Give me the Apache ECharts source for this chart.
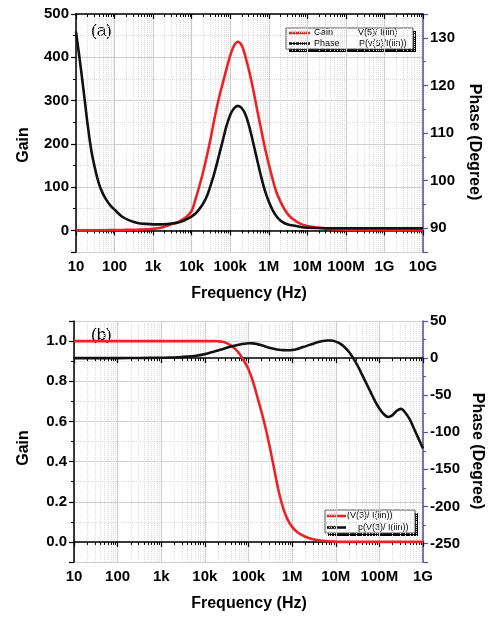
<!DOCTYPE html>
<html><head><meta charset="utf-8">
<script src="https://cdn.jsdelivr.net/npm/echarts@6/dist/echarts.min.js"></script>
<style>html,body{margin:0;padding:0;background:#fff}#c{width:490px;height:617px}</style>
</head><body><div id="c"></div>
<script>
// ---- Panel (a) data ----
const freqA = [10, 12.6, 15.8, 20, 25.1, 31.6, 39.8, 50.1, 63.1, 79.4, 100,
  158, 251, 398, 631, 1000, 1585, 2512,
  3162, 3981, 5012, 6310, 7943, 1e4, 1.26e4, 1.58e4, 2e4, 2.51e4, 3.16e4, 3.98e4, 5.01e4, 6.31e4, 7.94e4,
  1e5, 1.26e5, 1.58e5, 2e5, 2.51e5, 3.16e5, 3.98e5, 5.01e5, 6.31e5, 7.94e5,
  1e6, 1.26e6, 1.58e6, 2e6, 2.51e6, 3.16e6, 3.98e6,
  6.31e6, 1e7, 3.16e7, 1e8, 1e9, 1e10];
const gainA = [0, 0, 0, 0, 0, 0.1, 0.2, 0.3, 0.4, 0.5, 0.6,
  0.9, 1.2, 1.7, 2.5, 3.5, 6, 12,
  15, 18, 22, 27, 34, 45, 72, 102, 136, 174, 216, 262, 303, 338, 372,
  404, 427, 436, 427, 400, 365, 324, 278, 234, 191,
  153, 118, 88, 67, 50, 37, 28,
  16, 10, 4, 1.5, 0.5, 0];
const phaseA = [131.3, 125.2, 118.8, 111.8, 106.2, 102.3, 99.2, 97.2, 95.8, 94.7, 93.9,
  92.4, 91.6, 91.1, 90.9, 90.8, 90.8, 90.9,
  91.0, 91.1, 91.3, 91.6, 92.0, 92.5, 93.1, 94.0, 95.2, 96.8, 99.2, 101.9, 105.0, 108.2, 111.4,
  113.8, 115.2, 115.7, 115.2, 113.8, 111.2, 107.8, 104.3, 100.9, 97.9,
  95.6, 93.8, 92.5, 91.6, 91.1, 90.8, 90.6,
  90.3, 90.1, 90, 90, 90, 90];
// ---- Panel (b) data ----
const freqB = [10, 31.6, 100, 316, 1000, 1585, 2512, 3981, 6310,
  1e4, 1.26e4, 1.58e4, 2e4, 2.51e4, 3.16e4, 3.98e4, 5.01e4, 6.31e4, 7.94e4,
  1e5, 1.26e5, 1.58e5, 2e5, 2.51e5, 3.16e5, 3.98e5, 5.01e5, 6.31e5, 7.94e5,
  1e6, 1.26e6, 1.58e6, 2e6, 2.51e6, 3.16e6, 3.98e6, 5.01e6, 6.31e6, 7.94e6,
  1e7, 1.26e7, 1.58e7, 2e7, 2.51e7, 3.16e7, 3.98e7, 5.01e7, 6.31e7, 7.94e7,
  1e8, 1.26e8, 1.58e8, 2e8, 2.51e8, 3.16e8, 3.98e8, 5.01e8, 6.31e8, 7.94e8,
  1e9];
const gainB = [1, 1, 1, 1, 1, 1, 1, 1, 1,
  1, 1, 1, 0.999, 0.997, 0.99, 0.978, 0.96, 0.935, 0.9,
  0.86, 0.8, 0.725, 0.645, 0.56, 0.46, 0.35, 0.245, 0.165, 0.11,
  0.075, 0.052, 0.037, 0.026, 0.018, 0.012, 0.008, 0.005, 0.003, 0.002,
  0.001, 0, 0, 0, 0, 0, 0, 0, 0, 0,
  0, 0, 0, 0, 0, 0, 0, 0, 0, 0,
  0];
const phaseB = [0, 0, 0, 0.1, 0.4, 0.7, 1.2, 2.0, 3.2,
  5.3, 6.8, 8.5, 10.3, 12, 13.8, 15.5, 17, 18.3, 19.3,
  19.9, 19.8, 18.8, 17.2, 15.3, 13.6, 12.2, 11.2, 10.7, 10.6,
  11.0, 12.0, 13.8, 15.8, 17.8, 19.8, 21.6, 23.0, 23.8, 23.6,
  22.2, 19.5, 15, 8.5, 0, -10, -22, -34, -46, -58,
  -68, -75.5, -79.5, -77, -71, -68.5, -74, -83, -96, -109,
  -122];
// ---- tick labels ----
const xTickLabels = ['10', '100', '1k', '10k', '100k', '1M', '10M', '100M', '1G', '10G'];

const pairs = (xs, ys) => xs.map((x, i) => [x, ys[i]]);
const FONT = 'Liberation Sans, Arial, sans-serif';
const RED = '#ec2227', BLACK = '#111', PURPLE = '#5b4ea6', GRID = '#cfcfcf';

function xAxisBottom(gi, max) {
  return {
    type: 'log', logBase: 10, gridIndex: gi, position: 'bottom', min: 10, max: max,
    axisLine: { show: true, lineStyle: { color: '#000', width: 1.5 } },
    axisTick: { show: true, inside: false, length: 5, lineStyle: { color: '#000', width: 1.2 } },
    minorTick: { show: true, splitNumber: 9, length: 3, lineStyle: { color: '#000' } },
    axisLabel: { color: '#000', fontFamily: FONT, fontWeight: 'bold', fontSize: 15, margin: 7,
      formatter: v => xTickLabels[Math.round(Math.log10(v)) - 1] },
    splitLine: { show: true, lineStyle: { color: GRID, width: 1.2 } },
    minorSplitLine: { show: true, lineStyle: { color: '#dcdcdc', type: 'dotted', width: 1 } }
  };
}
function xAxisTop(gi, max) {
  return {
    type: 'log', logBase: 10, gridIndex: gi, position: 'top', min: 10, max: max,
    axisLine: { show: true, lineStyle: { color: '#000', width: 1.5 } },
    axisTick: { show: true, inside: true, length: 5, lineStyle: { color: '#000', width: 1.2 } },
    minorTick: { show: true, splitNumber: 9, length: 3, lineStyle: { color: '#000' } },
    axisLabel: { show: false }, splitLine: { show: false }
  };
}
function yLeft(gi, min, max, split, fmt, hideMax) {
  return {
    type: 'value', gridIndex: gi, position: 'left', min: min, max: max, splitNumber: split,
    axisLine: { show: true, lineStyle: { color: '#000', width: 1.5 } },
    axisTick: { show: true, inside: false, length: 5, lineStyle: { color: '#000', width: 1.2 } },
    minorTick: { show: true, splitNumber: 2, length: 3, lineStyle: { color: '#000' } },
    axisLabel: { color: '#000', fontFamily: FONT, fontWeight: 'bold', fontSize: 15, margin: 7,
      showMinLabel: false, showMaxLabel: !hideMax, formatter: fmt },
    splitLine: { show: true, lineStyle: { color: GRID, width: 1.2 } },
    minorSplitLine: { show: true, lineStyle: { color: '#dcdcdc', type: 'dotted', width: 1 } }
  };
}
function yRight(gi, min, max, split, hideMax) {
  return {
    type: 'value', gridIndex: gi, position: 'right', min: min, max: max, splitNumber: split,
    axisLine: { show: true, lineStyle: { color: PURPLE, width: 1.5 } },
    axisTick: { show: true, inside: false, length: 5, lineStyle: { color: PURPLE, width: 1.2 } },
    minorTick: { show: true, splitNumber: 2, length: 3, lineStyle: { color: PURPLE } },
    axisLabel: { color: '#000', fontFamily: FONT, fontWeight: 'bold', fontSize: 15, margin: 7,
      showMinLabel: false, showMaxLabel: !hideMax },
    splitLine: { show: false }
  };
}
function lineSeries(name, data, xi, yi, color) {
  return { name: name, type: 'line', xAxisIndex: xi, yAxisIndex: yi, data: data, showSymbol: false,
    smooth: 0.3, lineStyle: { color: color, width: 2.6 }, itemStyle: { color: color }, silent: true, animation: false };
}
function txt(x, y, s, size, rot, weight, align) {
  return { type: 'text', x: x, y: y, rotation: rot || 0, silent: true,
    style: { text: s, fill: '#000', font: (weight || 'bold') + ' ' + size + 'px ' + FONT,
      textAlign: align || 'center', textVerticalAlign: 'middle' } };
}

const chart = echarts.init(document.getElementById('c'), null, { renderer: 'canvas' });
chart.setOption({
  animation: false,
  backgroundColor: '#fff',
  grid: [
    { left: 76, top: 14, width: 347, height: 238 },
    { left: 74, top: 321, width: 349, height: 241 }
  ],
  xAxis: [xAxisBottom(0, 1e10), xAxisTop(0, 1e10), xAxisBottom(1, 1e9), xAxisTop(1, 1e9)],
  yAxis: [
    yLeft(0, -50, 500, 5, null, false),
    yRight(0, 85, 135, 5, true),
    yLeft(1, -0.1, 1.1, 6, v => v.toFixed(1), true),
    yRight(1, -275, 50, 6, false)
  ],
  series: [
    lineSeries('Gain', pairs(freqA, gainA), 0, 0, RED),
    lineSeries('Phase', pairs(freqA, phaseA), 0, 1, BLACK),
    lineSeries('(V(3)/ I(iin))', pairs(freqB, gainB), 2, 2, RED),
    lineSeries('p(V(3)/ I(iin))', pairs(freqB, phaseB), 2, 3, BLACK)
  ],
  graphic: [
    txt(24, 145, 'Gain', 16, Math.PI / 2),
    txt(474, 142, 'Phase (Degree)', 16, -Math.PI / 2),
    txt(249, 294, 'Frequency (Hz)', 16),
    txt(24, 448, 'Gain', 16, Math.PI / 2),
    txt(477, 451, 'Phase (Degree)', 16, -Math.PI / 2),
    txt(249, 604, 'Frequency (Hz)', 16),
    txt(91, 31, '(a)', 17, 0, 'normal', 'left'),
    txt(91, 335, '(b)', 17, 0, 'normal', 'left'),
    // legend (a)
    { type: 'rect', silent: true, shape: { x: 289, y: 31, width: 127, height: 21 }, style: { fill: '#000' } },
    { type: 'rect', silent: true, shape: { x: 286, y: 28, width: 127, height: 21 }, style: { fill: '#fff', stroke: '#555', lineWidth: 1 } },
    { type: 'line', silent: true, shape: { x1: 289, y1: 33, x2: 310, y2: 33 }, style: { stroke: RED, lineWidth: 2.6 } },
    { type: 'line', silent: true, shape: { x1: 289, y1: 43.5, x2: 310, y2: 43.5 }, style: { stroke: BLACK, lineWidth: 2.6 } },
    txt(314, 33, 'Gain', 9, 0, 'normal', 'left'),
    txt(314, 43.5, 'Phase', 9, 0, 'normal', 'left'),
    txt(358, 33, 'V(5)/ I(iin)', 9, 0, 'normal', 'left'),
    txt(359, 43.5, 'P(v(5)/I(iin))', 9, 0, 'normal', 'left'),
    // legend (b)
    { type: 'rect', silent: true, shape: { x: 328, y: 513, width: 90, height: 23 }, style: { fill: '#000' } },
    { type: 'rect', silent: true, shape: { x: 325, y: 510, width: 90, height: 23 }, style: { fill: '#fff', stroke: '#555', lineWidth: 1 } },
    { type: 'line', silent: true, shape: { x1: 327, y1: 516, x2: 346, y2: 516 }, style: { stroke: RED, lineWidth: 2.6 } },
    { type: 'line', silent: true, shape: { x1: 327, y1: 527.5, x2: 346, y2: 527.5 }, style: { stroke: BLACK, lineWidth: 2.6 } },
    txt(347, 516, '(V(3)/ I(iin))', 9, 0, 'normal', 'left'),
    txt(358, 527.5, 'p(V(3)/ I(iin))', 9, 0, 'normal', 'left')
  ]
});
</script></body></html>
